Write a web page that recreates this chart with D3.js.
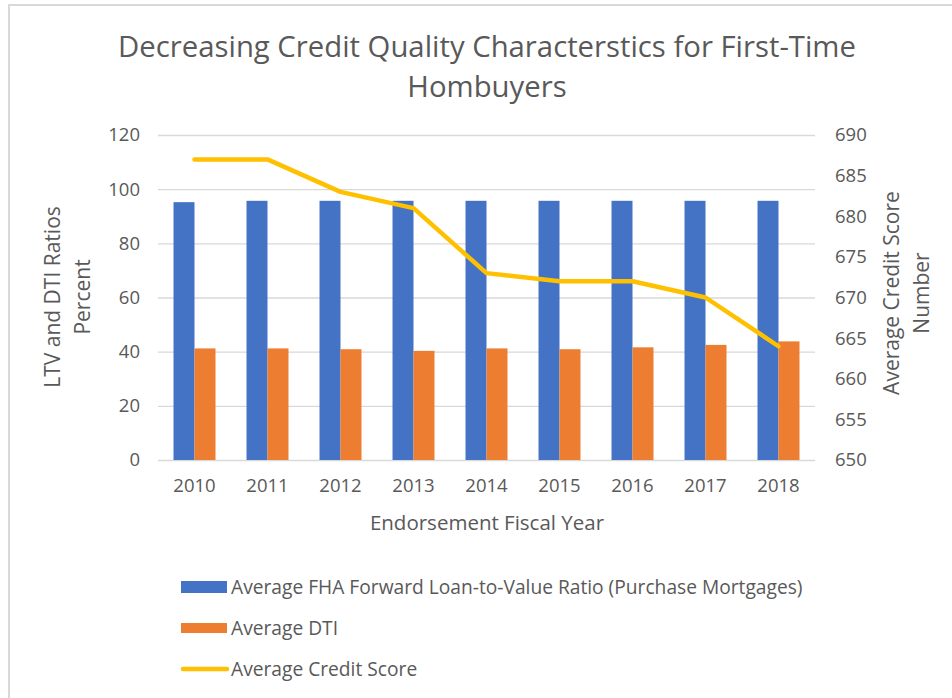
<!DOCTYPE html>
<html>
<head>
<meta charset="utf-8">
<script src="https://cdn.jsdelivr.net/npm/d3@7"></script>
<style>
  body { margin: 0; background: #fff; }
  svg text { font-family: "Open Sans", Lato, sans-serif; fill: #595959; }
</style>
</head>
<body>
<svg id="chart"></svg>
<script>
const years = ["2010", "2011", "2012", "2013", "2014", "2015", "2016", "2017", "2018"];
const ltv = [95.2, 95.7, 95.7, 95.7, 95.7, 95.7, 95.7, 95.7, 95.7];
const dti = [41.2, 41.2, 40.9, 40.3, 41.2, 40.9, 41.6, 42.5, 43.8];
const creditScore = [687, 687, 683, 681, 673, 672, 672, 670, 664];
const leftTicks = [0, 20, 40, 60, 80, 100, 120];
const rightTicks = [650, 655, 660, 665, 670, 675, 680, 685, 690];
const seriesNames = [
    "Average FHA Forward Loan-to-Value Ratio (Purchase Mortgages)",
    "Average DTI",
    "Average Credit Score"
];

const width = 952;
const height = 698;
const marginTop = 135;
const marginBottom = 238;
const marginLeft = 158;
const marginRight = 137;
const blue = "#4472C4";
const orange = "#ED7D31";
const gold = "#FFC000";

const svg = d3.select("#chart")
    .attr("width", width)
    .attr("height", height);

// chart border (only top and left edges visible)
svg.append("path")
    .attr("d", `M9,${height} V5 H${width}`)
    .attr("fill", "none")
    .attr("stroke", "#d9d9d9")
    .attr("stroke-width", 2);

const x = d3.scaleBand()
    .domain(years)
    .range([marginLeft, width - marginRight])
    .paddingInner(0.425)
    .paddingOuter(0.2125);

const x1 = d3.scaleBand()
    .domain(["ltv", "dti"])
    .range([0, x.bandwidth()]);

const y = d3.scaleLinear()
    .domain([0, 120])
    .range([height - marginBottom, marginTop]);

const y2 = d3.scaleLinear()
    .domain([650, 690])
    .range([height - marginBottom, marginTop]);

// gridlines + left axis
svg.append("g")
    .attr("transform", `translate(${marginLeft},0)`)
    .call(d3.axisLeft(y).tickValues(leftTicks).tickSize(0).tickPadding(18))
    .call(g => g.select(".domain").remove())
    .call(g => g.selectAll(".tick text").attr("font-size", 18.5))
    .call(g => g.selectAll(".tick line").clone()
        .attr("x2", width - marginLeft - marginRight)
        .attr("stroke", "#d9d9d9")
        .attr("stroke-width", 1.3));

// right axis
svg.append("g")
    .attr("transform", `translate(${width - marginRight},0)`)
    .call(d3.axisRight(y2).tickValues(rightTicks).tickSize(0).tickPadding(20))
    .call(g => g.select(".domain").remove())
    .call(g => g.selectAll(".tick text").attr("font-size", 18.5));

// bottom axis
svg.append("g")
    .attr("transform", `translate(0,${height - marginBottom})`)
    .call(d3.axisBottom(x).tickSize(0).tickPadding(19))
    .call(g => g.select(".domain").remove())
    .call(g => g.selectAll(".tick text").attr("font-size", 18.5));

// bars
const groups = svg.append("g")
    .selectAll("g")
    .data(years)
    .join("g")
    .attr("transform", d => `translate(${x(d)},0)`);

groups.append("rect")
    .attr("x", x1("ltv"))
    .attr("y", (d, i) => y(ltv[i]))
    .attr("width", x1.bandwidth())
    .attr("height", (d, i) => y(0) - y(ltv[i]))
    .attr("fill", blue);

groups.append("rect")
    .attr("x", x1("dti"))
    .attr("y", (d, i) => y(dti[i]))
    .attr("width", x1.bandwidth())
    .attr("height", (d, i) => y(0) - y(dti[i]))
    .attr("fill", orange);

// credit score line
const line = d3.line()
    .x((d, i) => x(years[i]) + x.bandwidth() / 2)
    .y(d => y2(d));

svg.append("path")
    .attr("fill", "none")
    .attr("stroke", gold)
    .attr("stroke-width", 4.5)
    .attr("stroke-linejoin", "round")
    .attr("stroke-linecap", "round")
    .attr("d", line(creditScore));

// title
const title = svg.append("text")
    .attr("text-anchor", "middle")
    .attr("font-size", 29.3);
title.append("tspan").attr("x", 487).attr("y", 57)
    .text("Decreasing Credit Quality Characterstics for First-Time");
title.append("tspan").attr("x", 487).attr("y", 97)
    .text("Hombuyers");

// axis titles
const leftTitle = svg.append("text")
    .attr("text-anchor", "middle")
    .attr("font-size", 21)
    .attr("transform", "translate(0,297) rotate(-90)");
leftTitle.append("tspan").attr("x", 0).attr("y", 60).text("LTV and DTI Ratios");
leftTitle.append("tspan").attr("x", 0).attr("y", 90).text("Percent");

const rightTitle = svg.append("text")
    .attr("text-anchor", "middle")
    .attr("font-size", 21)
    .attr("transform", "translate(0,293) rotate(-90)");
rightTitle.append("tspan").attr("x", 0).attr("y", 899).text("Average Credit Score");
rightTitle.append("tspan").attr("x", 0).attr("y", 929).text("Number");

svg.append("text")
    .attr("x", 487)
    .attr("y", 530)
    .attr("text-anchor", "middle")
    .attr("font-size", 20.5)
    .text("Endorsement Fiscal Year");

// legend
const legendY = [587, 628, 669];
const legend = svg.append("g")
    .selectAll("g")
    .data(seriesNames)
    .join("g")
    .attr("transform", (d, i) => `translate(181,${legendY[i]})`);

legend.filter((d, i) => i < 2).append("rect")
    .attr("x", 0)
    .attr("y", (d, i) => i === 0 ? -6 : -5)
    .attr("width", 46)
    .attr("height", (d, i) => i === 0 ? 12 : 10)
    .attr("fill", (d, i) => i === 0 ? blue : orange);

legend.filter((d, i) => i === 2).append("line")
    .attr("x1", 2)
    .attr("x2", 46)
    .attr("stroke", gold)
    .attr("stroke-width", 4.5)
    .attr("stroke-linecap", "round");

legend.append("text")
    .attr("x", 50)
    .attr("dy", "0.35em")
    .attr("font-size", 19.2)
    .text(d => d);
</script>
</body>
</html>
